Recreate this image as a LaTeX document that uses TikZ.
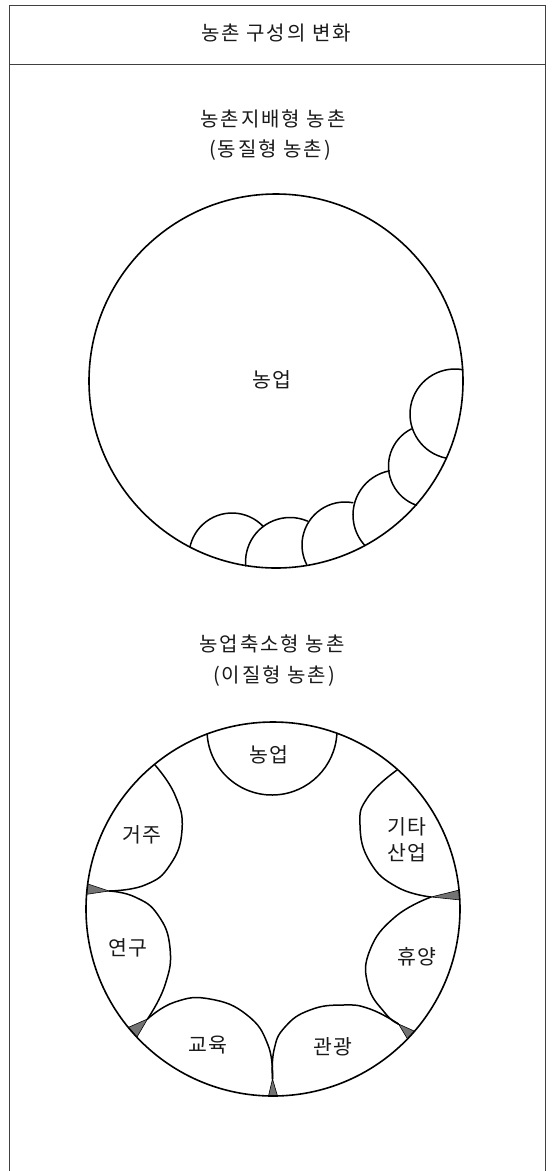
\documentclass[tikz,border=0pt]{standalone}
\usepackage{fontspec}
\newfontfamily\kr[LetterSpace=6]{Noto Sans CJK KR}
\newfontfamily\krw[LetterSpace=10]{Noto Sans CJK KR}
\tikzset{
  lbl/.style={font=\kr\fontsize{20.5}{24}\selectfont, inner sep=0pt, text=black!90},
  head/.style={font=\krw\fontsize{20}{24}\selectfont, inner sep=0pt, text=black!90},
  ring/.style={line width=1.6pt},
  petal/.style={line width=1.5pt, line join=round, line cap=round},
  wedge/.style={fill=black!55, draw=black, line width=0.6pt, line join=round},
  frame/.style={line width=1pt, draw=black!75}
}
\begin{document}
\begin{tikzpicture}[x=1pt,y=-1pt]
\useasboundingbox (0,0) rectangle (554,1171);
\fill[white] (0,0) rectangle (554,1171);

% frame
\draw[frame] (9,1171) -- (9,5) -- (545,5) -- (545,1171);
\draw[frame] (9,64) -- (545,64);
\node[head] (title) at (276,33) {농촌 구성의 변화};

% ---------- upper diagram ----------
\node[head] (s1a) at (273,119) {농촌지배형 농촌};
\node[head] (s1b) at (270,150) {(동질형 농촌)};
\draw[ring] (276,381) circle[radius=187pt];
\node[lbl] (u) at (272,380) {농업};

\draw[petal] (455,414) ++(80:45pt) arc[start angle=80, end angle=259, radius=45pt];
\draw[petal] (430,466) ++(116.6:41.5pt) arc[start angle=116.6, end angle=251, radius=41.5pt];
\draw[petal] (398,515) ++(101:45pt) arc[start angle=101, end angle=222, radius=45pt];
\draw[petal] (345,545) ++(79.5:43pt) arc[start angle=79.5, end angle=207, radius=43pt];
\draw[petal] (290,562) ++(66.8:44.5pt) arc[start angle=66.8, end angle=185, radius=44.5pt];
\draw[petal] (232,556) ++(43:43pt) arc[start angle=43, end angle=168, radius=43pt];

% ---------- lower diagram ----------
\node[head] (s2a) at (272,644) {농업축소형 농촌};
\node[head] (s2b) at (274,676) {(이질형 농촌)};

% gaps between petals
\draw[wedge] (109,891) -- (87.7,883.9) -- (86.6,894.3) -- cycle;
\draw[wedge] (431,897) -- (459.0,890.1) -- (459.8,899.9) -- cycle;
\draw[wedge] (147.5,1019) -- (128.3,1027.4) -- (136.9,1037.2) -- cycle;
\draw[wedge] (398.5,1024) -- (407.5,1038.9) -- (414.6,1031.2) -- cycle;
\draw[wedge] (272.5,1079) -- (268.5,1096) -- (277.5,1096) -- cycle;

\draw[ring] (273,909) circle[radius=187pt];

% petals
\draw[petal] (272,730) ++(183.5:65pt) arc[start angle=183.5, end angle=356.5, radius=65pt];
\draw[petal] plot[smooth, tension=0.8] coordinates {(397,770) (368,797) (360,825) (370,862) (397,887) (431,897)};
\draw[petal] plot[smooth, tension=0.8] coordinates {(431,897) (395,917) (370,950) (368,985) (385,1013) (398.5,1024)};
\draw[petal] plot[smooth, tension=0.8] coordinates {(398.5,1024) (370,1009) (343,1005) (310,1010) (285,1027) (274,1050) (272.5,1079)};
\draw[petal] plot[smooth, tension=0.8] coordinates {(272.5,1079) (268,1045) (247,1015) (210,999) (175,1002) (147.5,1019)};
\draw[petal] plot[smooth, tension=0.8] coordinates {(147.5,1019) (165,985) (170,948) (158,915) (135,897) (109,891)};
\draw[petal] plot[smooth, tension=0.8] coordinates {(155,765) (175,795) (182,830) (170,865) (145,885) (109,891)};

% labels
\node[lbl] (p1) at (269,755) {농업};
\node[lbl] (p2a) at (407,827) {기타};
\node[lbl] (p2b) at (407,853) {산업};
\node[lbl] (p3) at (417,957) {휴양};
\node[lbl] (p4) at (333,1047) {관광};
\node[lbl] (p5) at (208,1045) {교육};
\node[lbl] (p6) at (128,948) {연구};
\node[lbl] (p7) at (142,835) {거주};
\end{tikzpicture}
\end{document}
